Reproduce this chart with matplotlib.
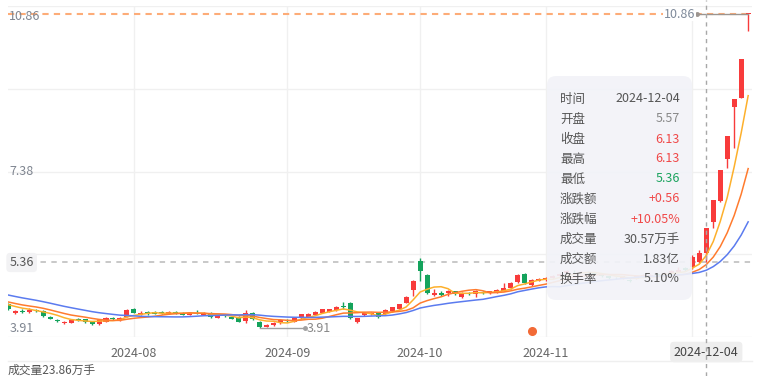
import numpy as np
import pandas as pd
import matplotlib
matplotlib.use('Agg')
import matplotlib.pyplot as plt
from matplotlib.patches import FancyBboxPatch
from matplotlib.lines import Line2D
import matplotlib.transforms as mtransforms

plt.rcParams['font.family'] = ['Noto Sans CJK SC', 'DejaVu Sans']

# trading days (weekdays minus exchange holidays)
holidays = ['2024-09-16', '2024-09-17', '2024-10-01', '2024-10-02',
            '2024-10-03', '2024-10-04', '2024-10-07']
days = pd.bdate_range('2024-07-08', '2024-12-12')
days = days[~days.isin(pd.to_datetime(holidays))]

# daily OHLC
opens = [4.44, 4.24, 4.29, 4.27, 4.30, 4.29, 4.16, 4.09, 4.02, 4.02,
         4.10, 4.10, 4.04, 3.99, 4.05, 4.12, 4.08, 4.16, 4.33, 4.20,
         4.26, 4.27, 4.25, 4.22, 4.26, 4.24, 4.20, 4.25, 4.20, 4.24,
         4.14, 4.19, 4.16, 4.16, 4.07, 4.24, 4.05, 3.94, 3.97, 4.02,
         4.09, 4.05, 4.14, 4.16, 4.20, 4.25, 4.27, 4.30, 4.39, 4.46,
         4.05, 4.20, 4.21, 4.25, 4.21, 4.28, 4.33, 4.47, 4.75, 5.39,
         5.08, 4.63, 4.69, 4.68, 4.72, 4.60, 4.69, 4.66, 4.70, 4.68,
         4.70, 4.74, 4.79, 4.92, 5.10, 4.86, 4.96, 4.97, 5.02, 5.07,
         5.12, 5.16, 5.14, 5.15, 5.12, 5.10, 5.05, 5.02, 5.01, 4.98,
         5.00, 5.05, 5.07, 5.11, 5.09, 5.13, 5.15, 5.23, 5.26, 5.38,
         5.57, 6.26, 6.72, 7.65, 8.80, 9.00, 10.86]
highs = [4.46, 4.31, 4.33, 4.35, 4.33, 4.31, 4.18, 4.11, 4.07, 4.11,
         4.13, 4.12, 4.06, 4.10, 4.15, 4.15, 4.16, 4.33, 4.36, 4.28,
         4.29, 4.29, 4.28, 4.29, 4.28, 4.26, 4.27, 4.30, 4.27, 4.26,
         4.20, 4.21, 4.18, 4.17, 4.31, 4.27, 4.07, 4.00, 4.05, 4.11,
         4.12, 4.15, 4.23, 4.25, 4.29, 4.34, 4.34, 4.39, 4.48, 4.48,
         4.14, 4.26, 4.26, 4.27, 4.33, 4.38, 4.45, 4.62, 4.97, 5.45,
         5.10, 4.77, 4.72, 4.75, 4.74, 4.70, 4.71, 4.75, 4.73, 4.74,
         4.77, 4.90, 4.93, 5.10, 5.12, 4.99, 5.02, 5.04, 5.09, 5.12,
         5.19, 5.19, 5.18, 5.17, 5.14, 5.12, 5.07, 5.04, 5.07, 5.00,
         5.07, 5.10, 5.11, 5.13, 5.15, 5.19, 5.26, 5.25, 5.52, 5.64,
         6.13, 6.74, 7.41, 8.15, 8.97, 9.87, 10.86]
lows = [4.31, 4.22, 4.25, 4.25, 4.26, 4.16, 4.10, 4.04, 4.00, 4.01,
        4.07, 4.03, 3.98, 3.97, 4.04, 4.09, 4.07, 4.15, 4.24, 4.19,
        4.20, 4.21, 4.22, 4.21, 4.23, 4.19, 4.19, 4.22, 4.19, 4.14,
        4.13, 4.15, 4.11, 4.04, 4.02, 4.08, 3.91, 3.93, 3.96, 4.00,
        4.05, 4.04, 4.12, 4.15, 4.19, 4.24, 4.26, 4.29, 4.33, 4.10,
        4.02, 4.18, 4.19, 4.14, 4.20, 4.27, 4.32, 4.46, 4.62, 4.96,
        4.66, 4.61, 4.62, 4.62, 4.65, 4.58, 4.65, 4.60, 4.67, 4.66,
        4.69, 4.73, 4.78, 4.91, 4.88, 4.85, 4.94, 4.95, 5.00, 5.05,
        5.10, 5.12, 5.12, 5.10, 5.08, 5.03, 4.99, 4.99, 5.00, 4.92,
        4.99, 5.04, 5.06, 5.07, 5.08, 5.12, 5.14, 5.17, 5.22, 5.35,
        5.36, 6.12, 6.70, 7.45, 7.89, 9.00, 10.49]
closes = [4.33, 4.28, 4.27, 4.31, 4.29, 4.18, 4.12, 4.06, 4.04, 4.09,
          4.09, 4.05, 4.00, 4.08, 4.13, 4.11, 4.14, 4.31, 4.25, 4.25,
          4.22, 4.22, 4.24, 4.27, 4.25, 4.20, 4.25, 4.23, 4.25, 4.15,
          4.18, 4.17, 4.12, 4.05, 4.25, 4.10, 3.94, 3.98, 4.03, 4.09,
          4.07, 4.13, 4.21, 4.23, 4.27, 4.32, 4.32, 4.37, 4.38, 4.13,
          4.13, 4.24, 4.24, 4.16, 4.31, 4.37, 4.44, 4.60, 4.94, 5.18,
          4.68, 4.68, 4.64, 4.72, 4.67, 4.68, 4.68, 4.72, 4.69, 4.72,
          4.75, 4.79, 4.91, 5.08, 4.90, 4.97, 4.99, 5.01, 5.07, 5.10,
          5.17, 5.14, 5.16, 5.12, 5.11, 5.05, 5.01, 5.01, 5.05, 4.94,
          5.05, 5.08, 5.09, 5.09, 5.13, 5.17, 5.20, 5.19, 5.49, 5.57,
          6.13, 6.74, 7.41, 8.15, 8.97, 9.87, 10.86]
# closes before the visible window, only used to seed the moving averages
prior_closes = [4.92, 4.88, 4.85, 4.83, 4.80, 4.78, 4.76, 4.73, 4.70, 4.68,
                4.62, 4.58, 4.55, 4.51, 4.47, 4.48, 4.45, 4.43, 4.44]

ma_periods = [5, 10, 20]
ma_colors = ['#FDB02C', '#FF7B2E', '#5B7BEF']

hover_day = '2024-12-04'
cross_price = 5.36
hover_volume = '30.57万手'
hover_amount = '1.83亿'
hover_turnover = '5.10%'
volume_label = '成交量23.86万手'
event_day = '2024-10-30'

UP, DOWN = '#F83B3B', '#14A35C'
W, H = 767, 376

o = np.array(opens); h = np.array(highs); l = np.array(lows); c = np.array(closes)
n = len(c)
x = np.arange(n)

allc = pd.Series(prior_closes + closes)
mas = [allc.rolling(p).mean().values[len(prior_closes):] for p in ma_periods]

fig = plt.figure(figsize=(W / 100, H / 100), dpi=100)
ax = fig.add_axes([8 / W, 1 - 337 / H, 744 / W, 331 / H])

hi, lo = h.max(), l.min()
per_px = (hi - lo) / 314
ax.set_ylim(lo - 9 * per_px, hi + 8 * per_px)
ax.set_xlim(-0.04, n - 0.45)

# grid: month starts and 4 equal bands
month_starts = [i for i in range(1, n) if days[i].month != days[i - 1].month]
ax.set_xticks(month_starts)
ax.set_xticklabels([days[i].strftime('%Y-%m') if days[i].month != 12 else '' for i in month_starts])
ax.set_yticks(np.linspace(*ax.get_ylim(), 5))
ax.tick_params(length=0, labelsize=9, labelcolor='#666666', pad=7)
ax.tick_params(axis='y', labelleft=False)
ax.grid(True, color='#F0F0F0', lw=1)
ax.set_axisbelow(True)
for s in ax.spines.values():
    s.set_visible(False)

# candles
cols = [UP if cc >= oo else DOWN for oo, cc in zip(o, c)]
ax.vlines(x, l, h, colors=cols, lw=1, zorder=3)
body = np.maximum(np.abs(c - o), 0.015)
ax.bar(x, body, bottom=np.minimum(o, c), width=0.72, color=cols, zorder=3)

for ma, col in zip(mas, ma_colors):
    ax.plot(x, ma, color=col, lw=1.1, zorder=4)

# top price line + high marker
ax.axhline(hi, color='#FDAC78', ls=(0, (3, 2.5)), lw=1.5, zorder=2)
i_hi = int(np.argmax(h))
ax.plot([i_hi - 7.3, i_hi], [hi, hi], color='#9C9590', lw=1, zorder=5)
ax.plot(i_hi - 7.3, hi, 'o', color='#9C9590', ms=2.5, zorder=5)
ax.text(i_hi - 7.6, hi, f'{hi:.2f}', ha='right', va='center', fontsize=9, color='#7F8A9A',
        bbox=dict(fc='white', ec='none', pad=0.5), zorder=5)

# low marker
i_lo = int(np.argmin(l))
ax.plot([i_lo, i_lo + 6.5], [lo, lo], color='#A0A0A0', lw=1, zorder=5)
ax.plot(i_lo + 6.5, lo, 'o', color='#A0A0A0', ms=2.5, zorder=5)
ax.text(i_lo + 6.8, lo, f'{lo:.2f}', ha='left', va='center', fontsize=9, color='#888888', zorder=5)

# left axis labels
yt = ax.get_yaxis_transform()
for v, dy in [(hi, -2), ((hi + lo) / 2, 0), (lo, 0)]:
    ax.annotate(f'{v:.2f}', xy=(0, v), xycoords=yt, xytext=(1, dy), textcoords='offset points',
                ha='left', va='center', fontsize=9, color='#7F8590', zorder=6)

# crosshair
hv = days.get_loc(pd.Timestamp(hover_day))
ax.axvline(hv, ymin=-39 / 331, ymax=1 + 6 / 331, clip_on=False, color='#A8A8A8',
           ls=(0, (3, 3)), lw=1, zorder=10)
ax.axhline(cross_price, color='#C4C4C4', ls=(0, (3, 3)), lw=1.3, zorder=2)
ax.text(0.002, cross_price, f'{cross_price:.2f}', transform=yt, ha='left', va='center',
        fontsize=9, color='#555555', zorder=6,
        bbox=dict(boxstyle='round,pad=0.25,rounding_size=0.3', fc='#F2F2F4', ec='none'))
ax.text(hv, -15 / 331, hover_day, transform=ax.get_xaxis_transform(), ha='center', va='center',
        fontsize=9, color='#444444', zorder=9, clip_on=False,
        bbox=dict(boxstyle='round,pad=0.3,rounding_size=0.3', fc='#EEEEEE', ec='none'))

# event marker
ev = days.get_loc(pd.Timestamp(event_day))
ax.plot(ev, 6 / 331, 'o', color='#F26A36', ms=5.5, transform=ax.get_xaxis_transform(), zorder=5)

# tooltip
box = FancyBboxPatch((547, H - 300), 145, 224, boxstyle='round,pad=0,rounding_size=9',
                     transform=mtransforms.IdentityTransform(), fc='#F2F3F8', ec='none',
                     alpha=0.92, zorder=20)
fig.add_artist(box)
prev = c[hv - 1]
chg = c[hv] - prev
rows = [
    ('时间', hover_day, '#555555'),
    ('开盘', f'{o[hv]:.2f}', '#888888'),
    ('收盘', f'{c[hv]:.2f}', '#F04848'),
    ('最高', f'{h[hv]:.2f}', '#F04848'),
    ('最低', f'{l[hv]:.2f}', '#1AA35E'),
    ('涨跌额', f'{chg:+.2f}', '#F04848'),
    ('涨跌幅', f'{chg / prev * 100:+.2f}%', '#F04848'),
    ('成交量', hover_volume, '#555555'),
    ('成交额', hover_amount, '#555555'),
    ('换手率', hover_turnover, '#555555'),
]
for k, (lab, val, col) in enumerate(rows):
    yy = 1 - (99 + 20 * k) / H
    fig.text(560 / W, yy, lab, ha='left', va='center', fontsize=9, color='#555555', zorder=21)
    fig.text(680 / W, yy, val, ha='right', va='center', fontsize=9, color=col, zorder=21)

# volume panel header
fig.add_artist(Line2D([8 / W, 752 / W], [1 - 361 / H] * 2, color='#EFEFEF', lw=1))
fig.text(8 / W, 1 - 364 / H, volume_label, ha='left', va='top', fontsize=8.5, color='#555555')

fig.savefig('out.png', dpi=100)
